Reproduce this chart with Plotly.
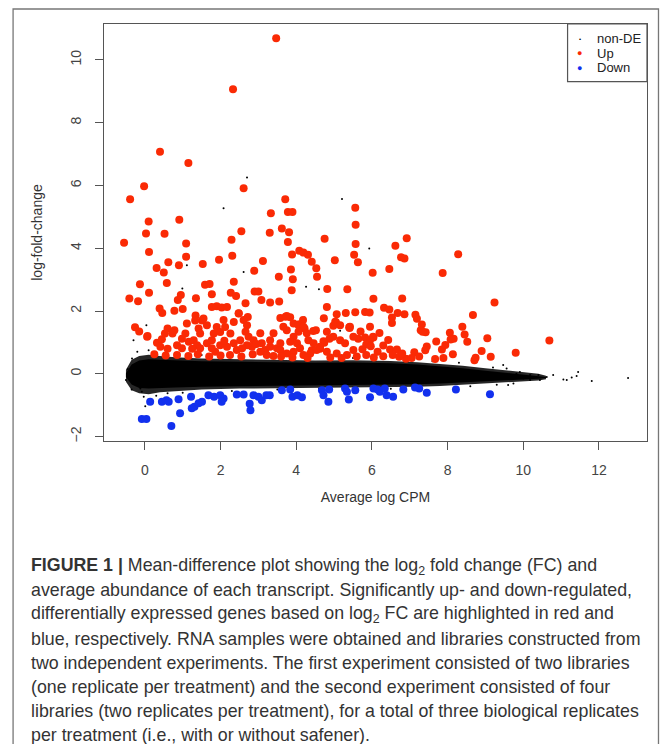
import plotly.graph_objects as go

# dense non-DE band (upper / lower edge of the black cloud)
band_x = [-0.5, -0.35, -0.15, 0.1, 0.4, 0.8, 1.5, 2.5, 3.5, 4.5, 5.5, 6.5, 7.2, 7.8, 8.4, 9.0, 9.5, 10.0, 10.4, 10.6]
band_hi = [0.02, 0.30, 0.42, 0.46, 0.45, 0.43, 0.40, 0.38, 0.36, 0.35, 0.36, 0.34, 0.30, 0.25, 0.18, 0.10, 0.04, -0.02, -0.06, -0.10]
band_lo = [-0.10, -0.34, -0.45, -0.47, -0.46, -0.44, -0.41, -0.38, -0.36, -0.35, -0.35, -0.34, -0.33, -0.31, -0.29, -0.25, -0.21, -0.18, -0.16, -0.13]
# sparser fringe of the same cloud
fringe_hi = [0.13, 0.45, 0.57, 0.61, 0.57, 0.53, 0.49, 0.46, 0.43, 0.42, 0.43, 0.41, 0.37, 0.32, 0.26, 0.18, 0.11, 0.05, 0.0, -0.06]
fringe_lo = [-0.25, -0.52, -0.62, -0.65, -0.59, -0.55, -0.50, -0.47, -0.44, -0.43, -0.43, -0.42, -0.41, -0.39, -0.36, -0.32, -0.28, -0.24, -0.21, -0.17]

nonde_x = [2.70, 2.08, 5.21, 1.11, 2.61, 4.26, 4.60, 0.99, 1.33, 0.04, 4.19, 5.16, 5.93, 4.41,
           -0.30, -0.34, -0.16, -0.12, -0.08, -0.03, 0.01, 1.29, 4.22,
           10.62, 10.79, 11.06, 11.15, 11.28, 11.41, 11.45, 11.81, 12.77,
           9.82, 10.0, 10.18, 10.27, 10.40, 10.44, 9.74, 9.60, 9.47, 9.56, 9.91, 10.18, 9.43,
           -0.45, -0.5, -0.35, -0.2, 0.1, 0.3, 0.6, 1.0, 1.5, 2.3, 2.8, 3.5, 4.6, 5.5, 6.5, 7.6, 8.3, 8.6, 9.2, 9.3]
nonde_y = [6.25, 5.27, 5.57, 3.46, 3.24, 2.77, 2.69, 2.72, 1.89, 1.55, 1.78, 1.37, 3.99, 1.07,
           1.07, 0.49, -0.31, -0.47, -0.57, -0.73, -1.03, 1.87, 1.79,
           -0.10, -0.04, -0.18, -0.20, -0.12, -0.07, 0.06, -0.23, -0.13,
           0.0, -0.15, -0.04, -0.12, -0.04, -0.20, -0.31, -0.36, 0.28, 0.17, 0.06, -0.20, -0.10,
           0.15, -0.2, -0.5, 0.7, 0.75, -0.7, -0.62, -0.6, 0.6, -0.55, 0.55, -0.5, -0.48, 0.5, -0.48, 0.4, 0.35, -0.4, 0.2, -0.35]

up_x = [3.47, 2.33, 0.40, 1.15, -0.02, -0.39, 2.61, 3.71, 3.78, 3.90, 3.33, 5.56, 5.57, 0.10, 0.91, 0.03, 0.52,
        2.55, 3.30, 3.62, 3.81, -0.55, 1.09, 2.29, 3.78, 4.75, 5.57,
        4.08, 4.19, 4.31, 4.41, 4.53, 4.55,
        0.11, 1.09, 0.62, 0.31, 0.50, 0.90, 1.53, 1.96, 2.31, 3.12, 2.89, 3.54, 3.86, 3.89, 5.02, 5.63, 5.53,
        6.92, 6.62, 6.77, 6.86, 8.28, 6.46, 6.02, 7.87,
        0.58, -0.13, 0.11, -0.41, -0.18, 0.95, 0.87, 1.59, 1.71, 1.77, 1.35, 2.35, 2.27, 2.41, 2.90, 3.00, 3.08,
        3.31, 3.55, 3.88, 3.91, 4.82, 5.35, 2.66, 6.04, 6.80, 9.24,
        4.81, 0.39, 0.46, 0.78, 1.00, 1.77, 1.90, 2.03, 2.17, 2.48, 2.72, 3.58, 3.72, 3.84, 4.73, 5.07, 5.31,
        5.56, 5.82, 5.94, 5.05, 5.41, 1.34, 1.51, -0.26, -0.15, 0.06, 4.52, 4.18, 4.08, 4.22,
        6.32, 6.46, 6.68, 6.86, 7.15, 7.19, 8.67, 6.53, 6.53, 4.98, 5.95, 7.32, 7.29, 7.42, 8.39, 8.06, 8.16,
        8.45, 8.52, 9.05, 10.69, 4.88, 4.72, 5.64, 5.82, 6.04, 6.43, 7.70,
        9.80, 8.90, 8.74, 8.71, 9.14, 8.14, 7.85, 7.94, 8.08, 7.67, 7.89, 7.45, 7.41, 7.34, 7.12, 6.48, 6.66,
        6.90, 6.72, 6.15, 6.03, 5.95, 5.85, 5.97, 5.40, 4.45, 4.74, 4.63, 4.41,
        0.07, 0.32, 0.45, 0.41, 0.60, 0.78, 0.53, 0.73, 1.11, 1.07, 0.98, 1.16, 0.85, 0.98, 1.33, 1.42, 1.46,
        1.55, 1.64, 1.29, 1.38, 1.46, 1.64, 1.77, 1.82, 1.90, 1.99, 2.08, 2.12, 2.26, 2.35, 2.43, 2.17, 1.99,
        1.86, 1.77, 2.35, 2.48, 2.61, 2.70, 2.66, 2.74, 2.87, 2.83, 2.70, 2.57, 2.52,
        3.05, 3.09, 3.18, 3.31, 3.40, 3.31, 3.49, 3.58, 3.05, 3.22, 3.75, 3.66, 3.75, 3.93, 4.06, 4.19, 4.06,
        3.93, 3.84, 4.02, 4.10, 3.93, 3.75, 3.58, 4.28, 4.32, 4.46, 4.54, 4.37, 4.19, 5.03, 5.16, 5.42, 4.81,
        4.98, 5.16, 5.29, 5.51, 5.51, 5.34, 5.07, 4.81, 4.63,
        0.25, 0.55, 0.85, 1.15, 1.40, 1.70, 2.00, 2.25, 2.55, 2.85, 3.40, 3.60, 3.90, 4.30, 4.90, 5.20, 5.60,
        5.85, 6.05, 6.30, 6.55, 7.05, 7.25, 1.25, 0.60, 2.10, 2.95, 5.75, 6.30, 6.80, 6.20, 5.70]
up_y = [10.69, 9.06, 7.07, 6.71, 5.97, 5.56, 5.91, 5.56, 5.15, 5.15, 5.11, 5.29, 4.75, 4.85, 4.91, 4.47, 4.46,
        4.54, 4.49, 4.63, 4.51, 4.17, 4.15, 4.27, 4.20, 4.30, 4.13,
        3.92, 3.86, 3.79, 3.57, 3.36, 3.09,
        3.88, 3.73, 3.55, 3.37, 3.23, 3.46, 3.50, 3.63, 3.76, 3.59, 3.28, 3.09, 3.32, 3.80, 3.62, 3.55, 3.79,
        4.32, 4.08, 3.71, 3.67, 3.81, 3.34, 3.22, 3.21,
        2.89, 2.85, 2.58, 2.40, 2.31, 2.51, 2.35, 2.84, 2.86, 2.53, 2.41, 2.93, 2.58, 2.48, 2.62, 2.62, 2.35,
        2.27, 2.30, 2.66, 3.01, 2.70, 2.69, 2.25, 2.39, 2.40, 2.27,
        2.13, 2.08, 1.94, 2.01, 2.06, 2.13, 2.15, 2.11, 2.13, 1.93, 1.81, 1.78, 1.82, 1.80, 1.77, 1.90, 1.94,
        1.96, 1.97, 1.95, 1.64, 1.46, 1.86, 1.70, 1.48, 1.35, 1.18, 1.39, 1.71, 1.58, 1.44,
        2.10, 2.05, 1.94, 1.90, 1.88, 1.75, 1.87, 1.79, 1.62, 1.53, 1.50, 1.57, 1.39, 1.32, 1.50, 1.31, 1.12,
        1.25, 1.02, 1.13, 1.06, 1.12, 1.04, 1.12, 1.16, 1.16, 1.08, 1.03,
        0.67, 0.73, 0.51, 0.43, 0.54, 0.62, 0.77, 0.92, 1.09, 0.47, 0.50, 0.87, 0.75, 1.34, 0.69, 0.77, 0.77,
        0.48, 0.54, 0.70, 1.18, 1.07, 0.93, 0.88, 1.48, 1.36, 0.99, 0.80, 0.75,
        1.20, 0.99, 1.10, 0.86, 1.44, 1.39, 1.28, 1.28, 1.60, 1.28, 1.12, 1.02, 0.91, 0.81, 1.70, 1.44, 1.28,
        1.76, 1.55, 1.07, 0.91, 0.81, 0.97, 1.07, 1.28, 1.49, 1.33, 1.71, 1.49, 1.28, 0.97, 0.76, 0.86, 0.91,
        0.70, 0.81, 1.65, 1.92, 1.71, 1.55, 1.34, 1.18, 1.07, 0.86, 0.91, 0.81, 1.07,
        1.29, 0.97, 0.76, 1.07, 1.29, 0.86, 0.81, 0.97, 0.70, 0.60, 1.84, 1.50, 1.39, 1.60, 1.55, 1.50, 1.34,
        1.18, 1.02, 0.97, 0.81, 0.70, 0.65, 0.76, 1.29, 1.07, 0.97, 0.76, 0.65, 0.60, 1.66, 1.55, 1.50, 1.34,
        1.18, 1.07, 0.97, 1.18, 0.76, 0.60, 0.65, 0.70, 0.86,
        0.62, 0.58, 0.60, 0.57, 0.62, 0.55, 0.58, 0.60, 0.55, 0.62, 0.57, 0.55, 0.52, 0.50, 0.52, 0.50, 0.55,
        0.60, 0.52, 0.56, 0.60, 0.50, 0.55, 0.80, 0.80, 1.05, 0.95, 0.78, 0.90, 0.65, 1.30, 1.35]

down_x = [-0.08, 0.04, 0.70, 0.14, 0.45, 0.57, 0.63, 0.89, 0.93, 1.24, 1.31, 1.42, 1.51, 1.22, 1.68, 1.83,
          1.99, 2.08, 2.03, 2.43, 2.61, 2.77, 2.79, 2.87, 3.00, 3.09, 3.30, 3.21, 3.62, 3.84, 3.90, 4.03,
          4.15, 4.68, 4.72, 4.85, 4.87, 5.29, 5.39, 5.56, 5.34, 5.95, 6.04, 6.15, 6.21, 6.34, 6.39, 6.56,
          6.83, 7.14, 7.25, 7.45, 8.22, 9.12]
down_y = [-1.44, -1.44, -1.66, -0.89, -0.89, -0.84, -0.89, -0.81, -1.26, -1.10, -1.05, -0.94, -0.89, -0.73,
          -0.68, -0.73, -0.68, -0.79, -0.89, -0.66, -0.66, -0.95, -1.16, -0.68, -0.73, -0.84, -0.68, -0.68,
          -0.52, -0.50, -0.73, -0.68, -0.75, -0.52, -0.68, -0.89, -0.50, -0.47, -0.82, -0.52, -0.57, -0.75,
          -0.47, -0.50, -0.57, -0.47, -0.68, -0.73, -0.50, -0.44, -0.47, -0.60, -0.50, -0.65]

legend_labels = ["non-DE", "Up", "Down"]
caption_lines = [
    "<b>FIGURE 1 |</b> Mean-difference plot showing the log<sub>2</sub> fold change (FC) and",
    "average abundance of each transcript. Significantly up- and down-regulated,",
    "differentially expressed genes based on log<sub>2</sub> FC are highlighted in red and",
    "blue, respectively. RNA samples were obtained and libraries constructed from",
    "two independent experiments. The first experiment consisted of two libraries",
    "(one replicate per treatment) and the second experiment consisted of four",
    "libraries (two replicates per treatment), for a total of three biological replicates",
    "per treatment (i.e., with or without safener).",
]

RED = "#fa2a05"
BLUE = "#1230ee"
FONT = "Liberation Sans, Arial, sans-serif"

fig = go.Figure()
fig.add_scatter(x=band_x + band_x[::-1], y=fringe_hi + fringe_lo[::-1], fill="toself",
                fillcolor="rgba(0,0,0,0.85)", line=dict(width=0), mode="lines", hoverinfo="skip")
fig.add_scatter(x=band_x + band_x[::-1], y=band_hi + band_lo[::-1], fill="toself",
                fillcolor="black", line=dict(width=0), mode="lines", hoverinfo="skip")
fig.add_scatter(x=nonde_x, y=nonde_y, mode="markers", marker=dict(color="black", size=2))
fig.add_scatter(x=up_x, y=up_y, mode="markers", marker=dict(color=RED, size=8))
fig.add_scatter(x=down_x, y=down_y, mode="markers", marker=dict(color=BLUE, size=8))

# page body adds an 8px margin, so the figure is shifted by OFF
OFF = 8
W, H = 669 - OFF, 744 - OFF
L, T = 104 - OFF, 24 - OFF
R = W - (647.5 - OFF)
B = H - (441 - OFF)
pw, ph = W - L - R, H - T - B


def px(x):
    # x in page pixels -> paper
    return (x - OFF - L) / pw


def py(y):
    return (H - B - (y - OFF)) / ph


axis_common = dict(showline=True, mirror=True, linecolor="#555", linewidth=1.3, ticks="outside",
                   ticklen=8, tickcolor="#555", tickwidth=1.3, showgrid=False, zeroline=False,
                   tickfont=dict(family=FONT, size=14, color="#444"),
                   title_font=dict(family=FONT, size=14, color="#333"))
fig.update_xaxes(range=[-1.08, 13.27], tickvals=[0, 2, 4, 6, 8, 10, 12], title_text="Average log CPM",
                 title_standoff=15, ticklabelstandoff=8, **axis_common)
fig.update_yaxes(range=[-2.14, 11.14], tickvals=[-2, 0, 2, 4, 6, 8, 10], tickangle=-90,
                 title_text="log-fold-change", title_standoff=22, ticklabelstandoff=8, **axis_common)

shapes = [
    # outer figure frame
    dict(type="rect", xref="paper", yref="paper", x0=px(13), x1=px(659), y0=py(800), y1=py(9),
         line=dict(color="#777", width=1.3)),
    # legend box
    dict(type="rect", xref="paper", yref="paper", x0=px(568), x1=1, y0=py(81.7), y1=1,
         line=dict(color="#555", width=1.2)),
]
annotations = []
leg_y = [38.5, 53, 67.5]
leg_sym = [("•", "black", 6), ("●", RED, 9), ("●", BLUE, 9)]
for lab, yy, (sym, col, fs) in zip(legend_labels, leg_y, leg_sym):
    annotations.append(dict(xref="paper", yref="paper", x=px(580), y=py(yy), text=sym, showarrow=False,
                            font=dict(family=FONT, size=fs, color=col), xanchor="center", yanchor="middle"))
    annotations.append(dict(xref="paper", yref="paper", x=px(595), y=py(yy), text=lab, showarrow=False,
                            font=dict(family=FONT, size=13, color="#222"), xanchor="left", yanchor="middle"))
for i, line in enumerate(caption_lines):
    annotations.append(dict(xref="paper", yref="paper", x=px(29), y=py(566 + 24.2 * i), text=line,
                            showarrow=False, xanchor="left", yanchor="middle",
                            font=dict(family=FONT, size=17.8, color="#333")))

fig.update_layout(width=W, height=H, margin=dict(l=L, r=R, t=T, b=B, autoexpand=False),
                  plot_bgcolor="white", paper_bgcolor="white", showlegend=False,
                  shapes=shapes, annotations=annotations, font=dict(family=FONT))
fig.write_html("out.html")
